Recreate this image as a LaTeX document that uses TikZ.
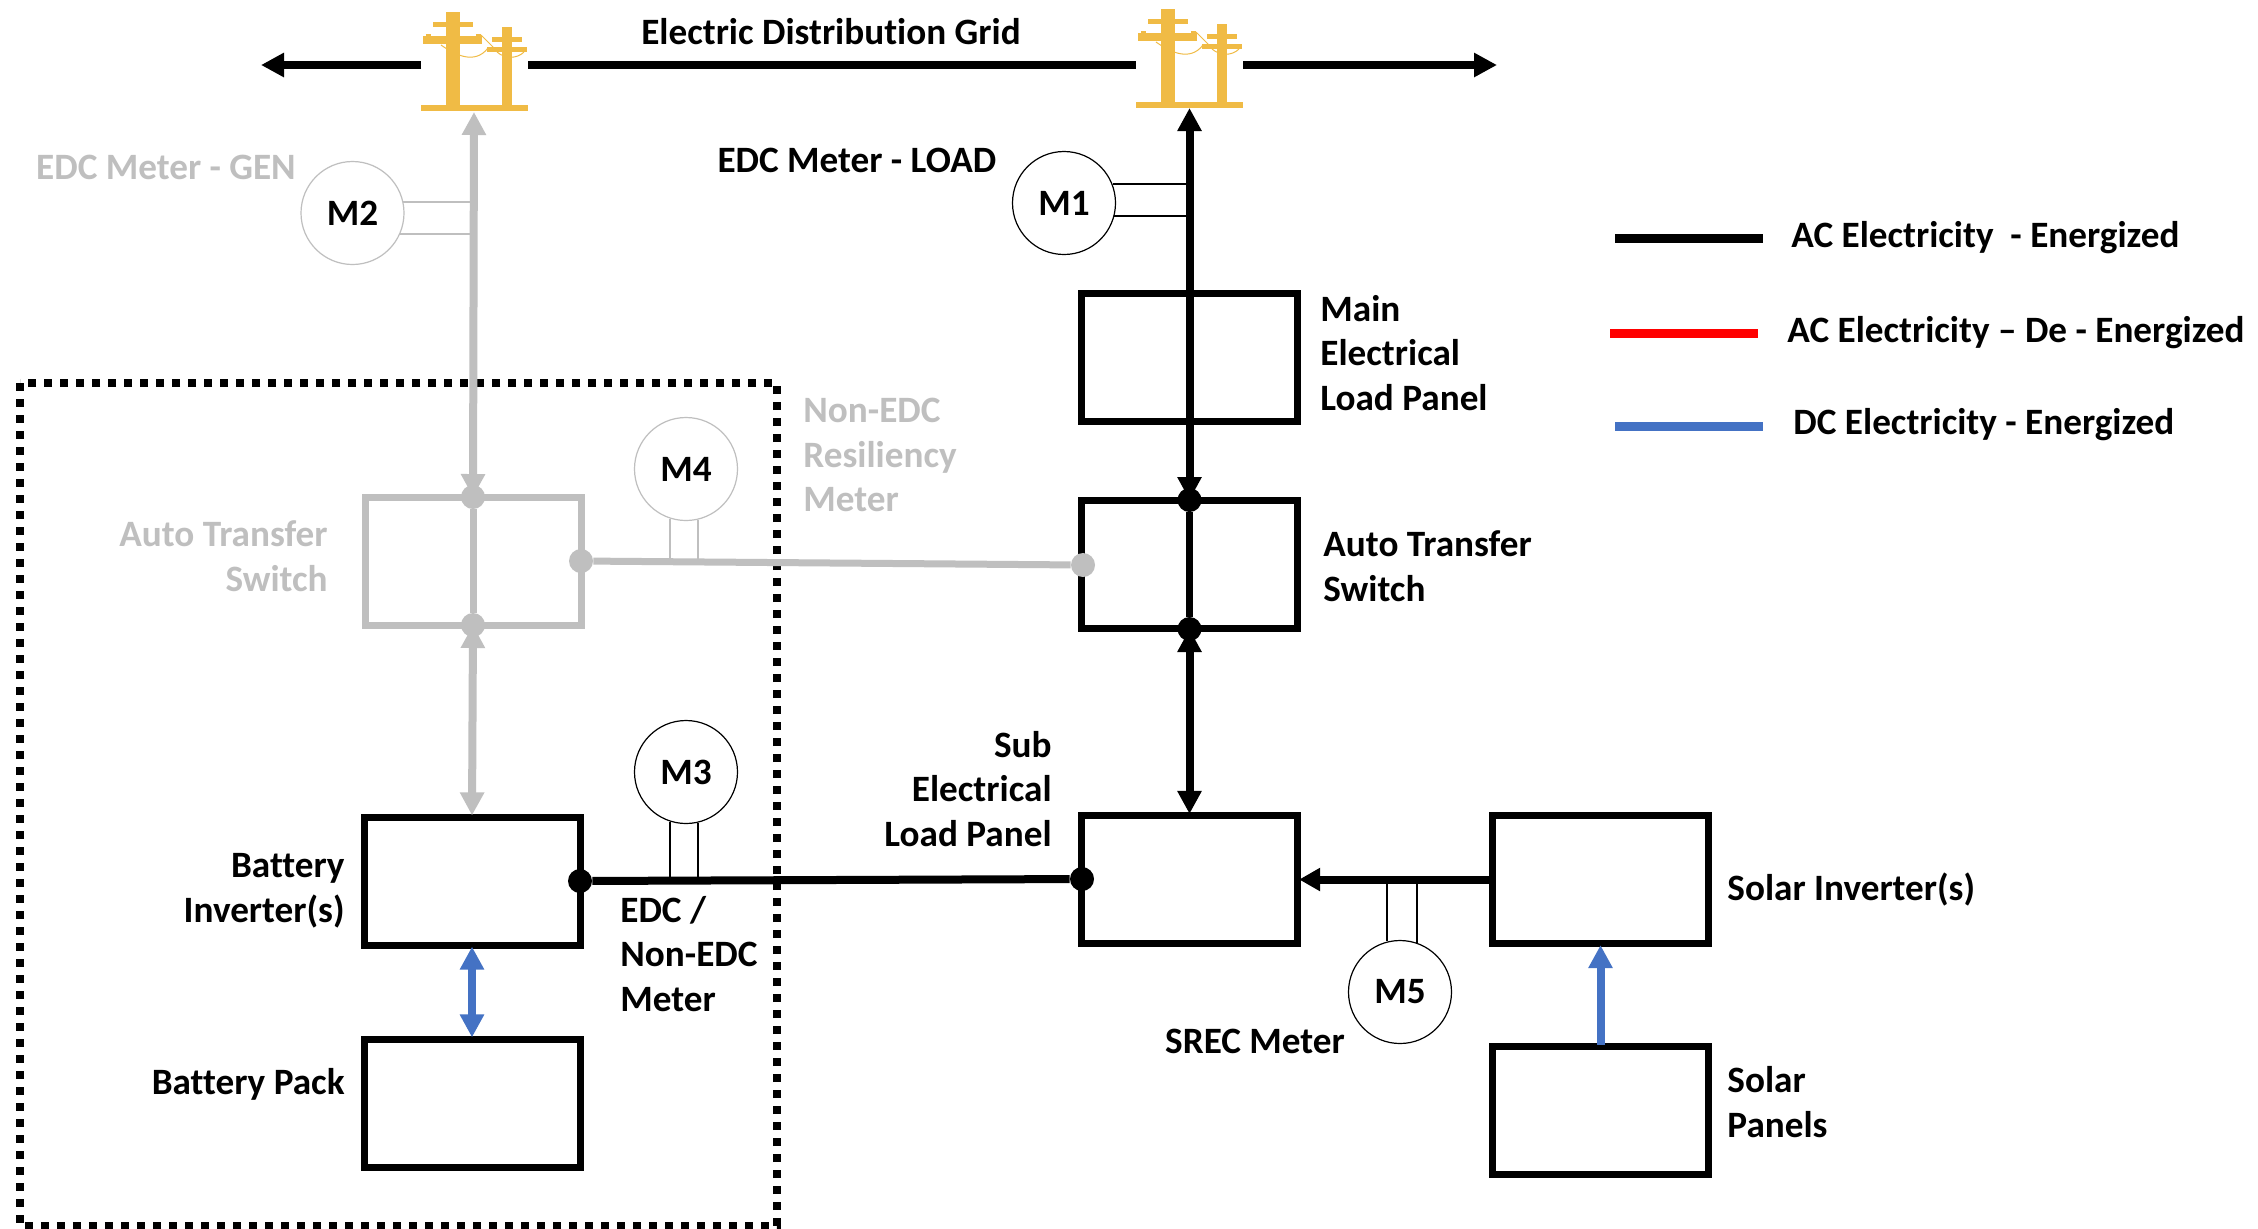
\documentclass[tikz,border=0pt]{standalone}
\usepackage{fontspec}
\setmainfont[RawFeature={-liga}]{Carlito}
\usetikzlibrary{arrows.meta}
\definecolor{off}{HTML}{BFBFBF}
\definecolor{polec}{HTML}{F0BB45}
\definecolor{dcblue}{HTML}{4472C4}
\definecolor{acred}{HTML}{FF0000}
\tikzset{
  x=0.5pt,y=-0.5pt,
  lbl/.style={font=\bfseries\fontsize{18.6}{22.3}\selectfont,inner sep=0pt,text=black},
  lblL/.style={lbl,anchor=west,align=left},
  lblR/.style={lbl,anchor=east,align=right},
  unit/.style={draw=#1,line width=3.5pt,minimum width=108pt,minimum height=64pt,inner sep=0pt,outer sep=0.8pt,fill=none},
  dotn/.style={circle,fill=#1,minimum size=12pt,inner sep=0pt},
  meter/.style={circle,draw=#1,line width=0.6pt,minimum size=51.5pt,inner sep=0pt,fill=white,text=black,font=\bfseries\fontsize{18.6}{22}\selectfont},
  bus/.style={draw=#1,line width=4pt},
  tick/.style={draw=#1,line width=1pt},
  head/.tip={Triangle[length=11.5pt,width=11.5pt]},
  pole/.pic={
    \fill[polec] (0,0) rectangle (107,6);
    \fill[polec] (25,-93) rectangle (39,0);
    \fill[polec] (12,-83) rectangle (52,-78);
    \fill[polec] (2,-69) rectangle (61,-61);
    \fill[polec] (5,-71) rectangle (10,-69);
    \fill[polec] (55,-71) rectangle (60,-69);
    \fill[polec] (81,-78) rectangle (91,0);
    \fill[polec] (71,-68) rectangle (101,-63);
    \fill[polec] (66,-58) rectangle (106,-53);
    \draw[polec,line width=0.5pt] (20,-60) .. controls (34,-50) and (54,-40) .. (67,-57);
    \draw[polec,line width=0.5pt] (60,-70) -- (74,-56);
    \draw[polec,line width=0.5pt] (76,-53) .. controls (84,-46) and (96,-46) .. (103,-53);
  }
}
\begin{document}
\begin{tikzpicture}
\useasboundingbox (0,0) rectangle (2258,1228);
\fill[white] (0,0) rectangle (2258,1228);
% dotted enclosure
\draw[black,line width=4pt,dash pattern=on 4pt off 4pt] (20,383) rectangle (777,1226);
% poles
\pic at (421,105) {pole};
\pic at (1136,102) {pole};
% boxes
\node[unit=off] (atsG) at (473,561.5) {};
\node[unit=black] (main) at (1189.5,357.5) {};
\node[unit=black] (ats) at (1189.5,564.5) {};
\node[unit=black] (sub) at (1189.5,879.5) {};
\node[unit=black] (binv) at (472,881) {};
\node[unit=black] (bpack) at (472,1103) {};
\node[unit=black] (sinv) at (1600.5,879.5) {};
\node[unit=black] (spanel) at (1600.5,1110.5) {};
% grid anchors
\coordinate (gridL) at (261,65);
\coordinate (p1w) at (421,65);
\coordinate (p1e) at (528,65);
\coordinate (p2w) at (1136,65);
\coordinate (p2e) at (1243,65);
\coordinate (gridR) at (1497,65);
\coordinate (p1b) at (474,112);
\coordinate (p2b) at (1189.5,108);
% dots
\node[dotn=off] (dg1) at (473,497) {};
\node[dotn=off] (dg2) at (473,625) {};
\node[dotn=off] (dg3) at (581,561) {};
\node[dotn=off] (dg4) at (1083,565) {};
\node[dotn=black] (d1) at (1189.5,500) {};
\node[dotn=black] (d2) at (1189.5,629) {};
\node[dotn=black] (d3) at (580,881) {};
\node[dotn=black] (d4) at (1082,879) {};
% grid bus
\draw[bus=black,-{head}] (p1w) -- (gridL);
\draw[bus=black] (p1e) -- (p2w);
\draw[bus=black,-{head}] (p2e) -- (gridR);
% meters
\node[meter=off] (m2) at (352.5,213) {M2};
\node[meter=black] (m1) at (1064,203) {M1};
\node[meter=off] (m4) at (686,469) {M4};
\node[meter=black] (m3) at (686,772) {M3};
\node[meter=black] (m5) at (1400,992) {M5};
% gray network
\draw[bus=off,{head}-{head}] (p1b) -- (dg1.center);
\draw[bus=off,line width=3.5pt] (dg1) -- (dg2);
\draw[bus=off,{head}-{head}] (dg2.center) -- (binv.north);
\draw[bus=off,line width=3.5pt] (dg3) -- (dg4);
\draw[tick=off] (m2.12) -- (m2.12 -| p1b);
\draw[tick=off] (m2.-24) -- (m2.-24 -| p1b);
\draw[tick=off] (m4.-108) -- (m4.-108 |- dg3);
\draw[tick=off] (m4.-77) -- (m4.-77 |- dg4);
% black network
\draw[bus=black,{head}-{head}] (p2b) -- (d1.center);
\draw[bus=black,line width=3.5pt] (d1) -- (d2);
\draw[bus=black,{head}-{head}] (d2.center) -- (sub.north);
\draw[bus=black] (d3) -- (d4);
\draw[bus=black,-{Triangle[length=10.5pt,width=11pt]}] (sinv.west |- sub.east) -- (sub.east);
\draw[tick=black] (m1.21.7) -- (m1.21.7 -| p2b);
\draw[tick=black] (m1.-15.8) -- (m1.-15.8 -| p2b);
\draw[tick=black] (m3.-108) -- (m3.-108 |- d3);
\draw[tick=black] (m3.-77) -- (m3.-77 |- d3);
\draw[tick=black] (m5.104.6) -- (m5.104.6 |- sub.east);
\draw[tick=black] (m5.71.8) -- (m5.71.8 |- sub.east);
% dc
\draw[bus=dcblue,{head}-{head}] (binv.south) -- (bpack.north);
\draw[bus=dcblue,-{head}] (spanel.north) -- (sinv.south);
% labels
\node[lbl] (t1) at (831,32) {Electric Distribution Grid};
\node[lbl,text=off] (t2) at (166,167) {EDC Meter - GEN};
\node[lbl] (t3) at (857,160) {EDC Meter - LOAD};
\node[lblL] (t4) at (1320,353) {Main\\Electrical\\Load Panel};
\node[lblL] (t5) at (1323,566) {Auto Transfer\\Switch};
\node[lblL,text=off] (t6) at (803,455) {Non-EDC\\Resiliency\\Meter};
\node[lblR,text=off] (t7) at (328,556) {Auto Transfer\\Switch};
\node[lblR] (t8) at (1052,789) {Sub\\Electrical\\Load Panel};
\node[lblR] (t9) at (345,891) {Battery\\Inverter(s)};
\node[lblL] (t10) at (620,954) {EDC /\\Non-EDC\\Meter};
\node[lblR] (t11) at (345,1084) {Battery Pack};
\node[lbl] (t12) at (1255,1041) {SREC Meter};
\node[lblL] (t13) at (1727,889) {Solar Inverter(s)};
\node[lblL] (t14) at (1727,1102) {Solar\\Panels};
% legend
\coordinate (k1a) at (1615,238); \coordinate (k1b) at (1763,238);
\coordinate (k2a) at (1610,333); \coordinate (k2b) at (1758,333);
\coordinate (k3a) at (1615,426); \coordinate (k3b) at (1763,426);
\draw[bus=black,line width=4.5pt] (k1a) -- (k1b);
\draw[bus=acred,line width=4.5pt] (k2a) -- (k2b);
\draw[bus=dcblue,line width=4.5pt] (k3a) -- (k3b);
\node[lblL] (t15) at (1791,238) {AC Electricity~ - Energized};
\node[lblL] (t16) at (1787,333) {AC Electricity – De - Energized};
\node[lblL] (t17) at (1793,425) {DC Electricity - Energized};
\end{tikzpicture}
\end{document}
